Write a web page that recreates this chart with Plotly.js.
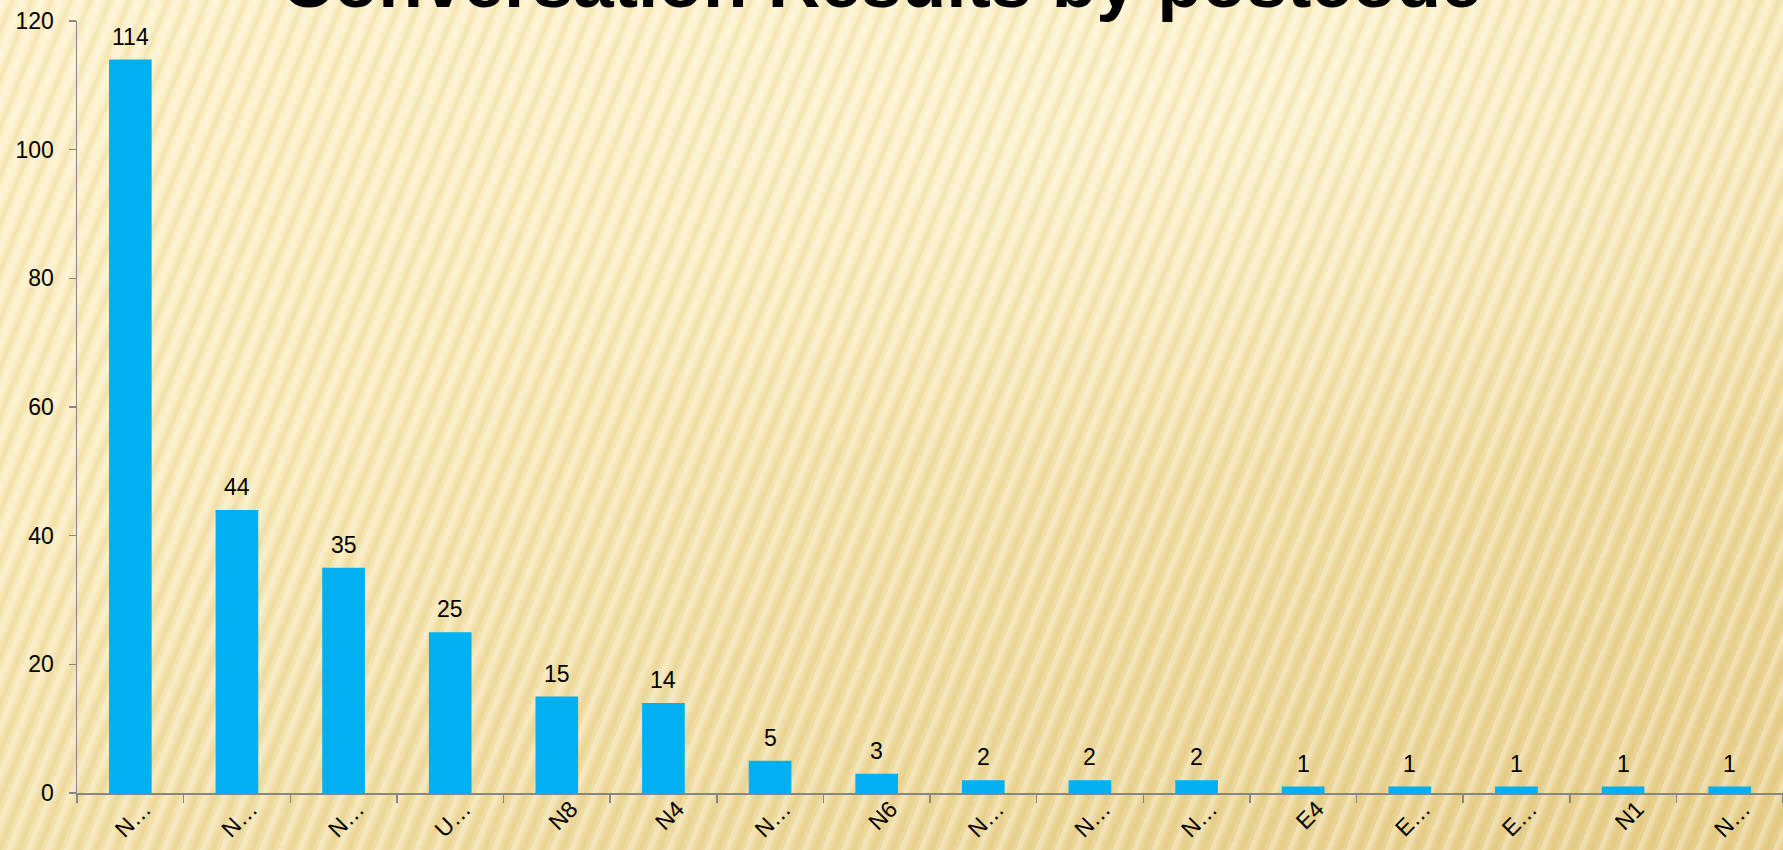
<!DOCTYPE html>
<html>
<head>
<meta charset="utf-8">
<script src="https://cdn.plot.ly/plotly-3.0.1.min.js"></script>
<style>
  html, body { margin: 0; padding: 0; width: 1783px; height: 850px; overflow: hidden; }
  body {
    background:
      repeating-linear-gradient(112deg, rgba(255,255,255,0.28) 0px, rgba(255,255,255,0.28) 4px, rgba(255,255,255,0) 7px, rgba(185,145,45,0.11) 11px, rgba(185,145,45,0.11) 13px, rgba(255,255,255,0) 16px, rgba(255,255,255,0) 18px),
      radial-gradient(ellipse 55% 45% at 70% 12%, rgba(255,250,225,0.5) 0%, rgba(255,250,225,0) 100%),
      linear-gradient(160deg, #FDF2CB 0%, #F9EBBB 35%, #F1DEA5 65%, #E7CF8C 100%);
  }
  #chart { width: 1783px; height: 850px; }
</style>
</head>
<body>
<div id="chart"></div>
<script>
const titleText = "Conversation Results by postcode";
const categories = ["N…", "N…", "N…", "U…", "N8", "N4", "N…", "N6", "N…", "N…", "N…", "E4", "E…", "E…", "N1", "N…"];
const values = [114, 44, 35, 25, 15, 14, 5, 3, 2, 2, 2, 1, 1, 1, 1, 1];
const yTicks = [0, 20, 40, 60, 80, 100, 120];

const idx = categories.map((_, i) => i);
const font = "Liberation Sans, Arial, sans-serif";

const trace = {
  type: "bar",
  x: idx,
  y: values,
  marker: { color: "#00B0F0" },
  width: 0.4,
  hoverinfo: "x+y"
};

const labelAnns = values.map((v, i) => ({
  x: i, y: v, xref: "x", yref: "y",
  text: String(v), showarrow: false,
  yanchor: "bottom", yshift: 8,
  font: { family: font, size: 23, color: "#000000" }
}));

const layout = {
  width: 1783, height: 850,
  margin: { l: 77, r: 0, t: 21, b: 57 },
  paper_bgcolor: "rgba(0,0,0,0)",
  plot_bgcolor: "rgba(0,0,0,0)",
  showlegend: false,
  font: { family: font, size: 23, color: "#000000" },
  xaxis: {
    range: [-0.5, categories.length - 0.5],
    tickmode: "array",
    tickvals: idx,
    ticktext: categories,
    tickangle: -45,
    ticks: "",
    ticklabelshift: 14,
    ticklabelstandoff: -8,
    minor: { ticks: "outside", tick0: -0.5, dtick: 1, ticklen: 8, tickwidth: 1.5, tickcolor: "#868686", showgrid: false },
    showline: true, linecolor: "#868686", linewidth: 1.5,
    showgrid: false, zeroline: false,
    tickfont: { family: font, size: 23, color: "#000000" },
    fixedrange: true
  },
  yaxis: {
    range: [0, 120],
    tickmode: "array",
    tickvals: yTicks,
    ticks: "outside", ticklen: 7, tickwidth: 1.5, tickcolor: "#868686",
    ticklabelstandoff: 10,
    showline: true, linecolor: "#868686", linewidth: 1.5,
    showgrid: false, zeroline: false,
    tickfont: { family: font, size: 23, color: "#000000" },
    fixedrange: true
  },
  annotations: [
    {
      text: "<b>" + titleText + "</b>",
      xref: "paper", yref: "paper",
      x: (881 - 77) / 1706, y: 1,
      xanchor: "center", yanchor: "middle", yshift: 40,
      showarrow: false,
      font: { family: font, size: 73, color: "#000000" }
    }
  ].concat(labelAnns)
};

Plotly.newPlot("chart", [trace], layout, { displayModeBar: false, staticPlot: true });
</script>
</body>
</html>
